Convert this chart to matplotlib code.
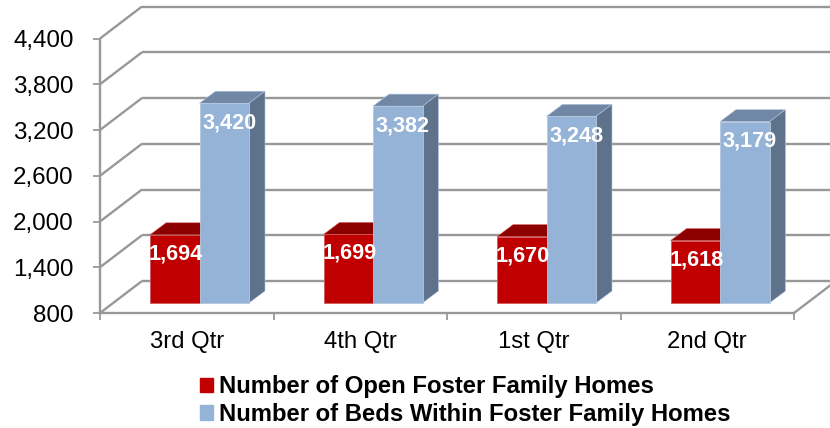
import matplotlib
matplotlib.use("Agg")
import matplotlib.pyplot as plt
from matplotlib.patches import Patch

plt.rcParams['font.family'] = ['Liberation Sans', 'DejaVu Sans']

quarters = ["3rd Qtr", "4th Qtr", "1st Qtr", "2nd Qtr"]
open_homes = [1694, 1699, 1670, 1618]
beds = [3420, 3382, 3248, 3179]
name_open = "Number of Open Foster Family Homes"
name_beds = "Number of Beds Within Foster Family Homes"
y_ticks = [800, 1400, 2000, 2600, 3200, 3800, 4400]

W, H = 830, 428
fig = plt.figure(figsize=(W / 100, H / 100), dpi=100)
ax = fig.add_axes([100 / W, (H - 313) / H, 694 / W, 274.5 / H])
ax.set_xlim(-0.5, 3.5)
ax.set_ylim(800, 4400)

# pixel sizes turned into data units
px_x = 4 / 694
px_y = 3600 / 274.5
wall_dx, wall_dy = 42 * px_x, 32 * px_y   # depth of the chart box
bar_dx, bar_dy = 16 * px_x, 12 * px_y     # depth of a bar
lift_x, lift_y = 12.75 * px_x, 10 * px_y  # bars stand inside the floor
bar_w = 49.5 * px_x

GRID = "#989898"


def line(xs, ys):
    ax.plot(xs, ys, color=GRID, lw=1.7, clip_on=False, zorder=1, solid_capstyle='butt')


# back wall lines and the diagonals on the left side
for v in y_ticks:
    line([-0.5, -0.5 + wall_dx], [v, v + wall_dy])
    line([-0.5 + wall_dx, 3.5 + wall_dx], [v + wall_dy, v + wall_dy])
line([3.5, 3.5 + wall_dx], [800, 800 + wall_dy])


def bar3d(x, value, front, top, side, edge, z):
    base = 800 + lift_y
    ax.bar(x, value - 800, bottom=base, width=bar_w, align='edge', color=front,
           edgecolor=edge, lw=0.6, zorder=z + 1, clip_on=False)
    y1 = base + value - 800
    ax.fill([x, x + bar_w, x + bar_w + bar_dx, x + bar_dx],
            [y1, y1, y1 + bar_dy, y1 + bar_dy],
            color=top, ec=edge, lw=0.4, zorder=z, clip_on=False)
    ax.fill([x + bar_w, x + bar_w + bar_dx, x + bar_w + bar_dx, x + bar_w],
            [base, base + bar_dy, y1 + bar_dy, y1],
            color=side, ec=edge, lw=0.4, zorder=z, clip_on=False)


for i in range(len(quarters)):
    x0 = i + lift_x - bar_w
    bar3d(x0, open_homes[i], "#C00000", "#8C0000", "#8C0000", "#D05A5A", 3)
    bar3d(x0 + bar_w, beds[i], "#95B3D7", "#7087A6", "#5F728C", "#B4C7E0", 5)
    ax.text(x0 + bar_w / 2 + 1 * px_x, 800 + lift_y + open_homes[i] - 800 - 19 * px_y,
            format(open_homes[i], ","), color="white", fontsize=15.6, fontweight='bold',
            ha='center', va='center', zorder=10, clip_on=False)
    ax.text(x0 + 1.5 * bar_w + 5 * px_x, 800 + lift_y + beds[i] - 800 - 19.5 * px_y,
            format(beds[i], ","), color="white", fontsize=15.6, fontweight='bold',
            ha='center', va='center', zorder=10, clip_on=False)

for s in ['top', 'right']:
    ax.spines[s].set_visible(False)
for s in ['left', 'bottom']:
    ax.spines[s].set_color(GRID)
    ax.spines[s].set_linewidth(1.7)
    ax.spines[s].set_zorder(2)

ax.set_yticks(y_ticks)
ax.set_yticklabels([format(v, ",") for v in y_ticks])
ax.tick_params(axis='y', length=5, width=1.3, color=GRID, pad=14, labelsize=17.4, labelcolor="black")
ax.set_xticks(range(len(quarters)))
ax.set_xticklabels(quarters)
ax.set_xticks([-0.5, 0.5, 1.5, 2.5, 3.5], minor=True)
ax.tick_params(axis='x', which='major', length=0, pad=13, labelsize=17.2, labelcolor="black")
ax.tick_params(axis='x', which='minor', length=5, width=1.3, color=GRID)

handles = [Patch(color="#C00000", label=name_open), Patch(color="#95B3D7", label=name_beds)]
fig.legend(handles=handles, loc='upper left', bbox_to_anchor=(193 / W, 1 - 368 / H),
           frameon=False, prop={'weight': 'bold', 'size': 17.2}, handlelength=0.55, handleheight=0.55,
           handletextpad=0.22, labelspacing=0.2, borderpad=0.3, borderaxespad=0)

fig.savefig("out.png", dpi=100)
